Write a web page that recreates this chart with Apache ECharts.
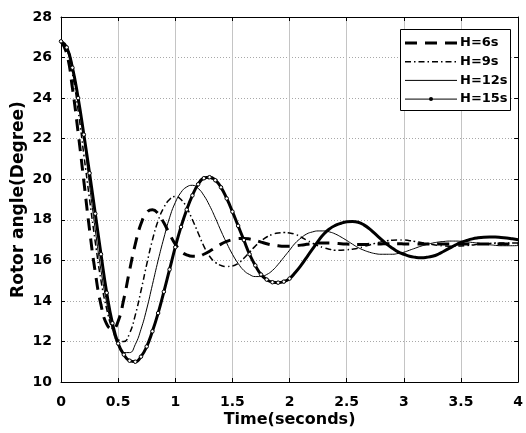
<!DOCTYPE html>
<html>
<head>
<meta charset="utf-8">
<script src="https://cdn.jsdelivr.net/npm/echarts@6/dist/echarts.min.js"></script>
<style>
  html, body { margin: 0; padding: 0; background: #fff; }
  #chart { width: 526px; height: 433px; }
</style>
</head>
<body>
<div id="chart"></div>
<script>
// Rotor angle response (degrees) sampled every 0.05 s from 0 to 4 s
const timeStep = 0.05;
const xTicks = ['0', '0.5', '1', '1.5', '2', '2.5', '3', '3.5', '4'];
const yTicks = ['10', '12', '14', '16', '18', '20', '22', '24', '26', '28'];
const seriesNames = ['H=6s', 'H=9s', 'H=12s', 'H=15s'];

const angleH6 = [
  26.8, 26.2, 24.5, 22.3, 19.9, 17.5, 15.4, 13.8, 12.85, 12.6,
  13.0, 14.1, 15.5, 16.8, 17.8, 18.35, 18.5, 18.3, 17.85, 17.3,
  16.8, 16.45, 16.27, 16.2, 16.2, 16.3, 16.45, 16.62, 16.8, 16.93,
  17.02, 17.07, 17.08, 17.05, 16.98, 16.9, 16.82, 16.76, 16.72, 16.7,
  16.7, 16.72, 16.75, 16.79, 16.83, 16.85, 16.86, 16.86, 16.84, 16.82,
  16.8, 16.79, 16.78, 16.78, 16.79, 16.8, 16.81, 16.82, 16.82, 16.82,
  16.81, 16.8, 16.8, 16.8, 16.8, 16.8, 16.8, 16.8, 16.8, 16.8,
  16.8, 16.8, 16.8, 16.8, 16.8, 16.8, 16.8, 16.8, 16.8, 16.8, 16.8
];
const angleH9 = [
  26.8, 26.45, 25.2, 23.4, 21.2, 19.0, 16.9, 15.0, 13.6, 12.6,
  12.1, 12.0, 12.4, 13.3, 14.5, 15.8, 17.0, 17.95, 18.6, 19.0,
  19.15, 19.0, 18.6, 18.0, 17.35, 16.7, 16.2, 15.9, 15.75, 15.7,
  15.72, 15.85, 16.1, 16.4, 16.7, 16.95, 17.15, 17.28, 17.35, 17.37,
  17.35, 17.28, 17.15, 17.0, 16.85, 16.72, 16.62, 16.55, 16.5, 16.5,
  16.52, 16.55, 16.6, 16.68, 16.76, 16.84, 16.91, 16.96, 16.99, 17.0,
  17.0, 16.97, 16.93, 16.88, 16.83, 16.78, 16.74, 16.71, 16.7, 16.7,
  16.71, 16.73, 16.76, 16.79, 16.81, 16.83, 16.85, 16.86, 16.86, 16.86, 16.85
];
const angleH12 = [
  26.8, 26.55, 25.6, 24.0, 22.0, 19.7, 17.5, 15.5, 13.9, 12.6,
  11.8, 11.45, 11.45, 11.85, 12.6, 13.6, 14.8, 16.0, 17.1, 18.1,
  18.85, 19.35, 19.62, 19.7, 19.55, 19.2, 18.7, 18.1, 17.45, 16.85,
  16.3, 15.85, 15.5, 15.3, 15.2, 15.2, 15.3, 15.5, 15.8, 16.15,
  16.5, 16.85, 17.1, 17.3, 17.4, 17.45, 17.45, 17.4, 17.3, 17.15,
  16.98, 16.8, 16.63, 16.5, 16.4, 16.33, 16.3, 16.3, 16.3, 16.34,
  16.4, 16.5, 16.6, 16.7, 16.78, 16.85, 16.9, 16.93, 16.95, 16.95,
  16.94, 16.92, 16.88, 16.85, 16.8, 16.77, 16.74, 16.72, 16.72, 16.72, 16.73
];
const angleH15 = [
  26.8, 26.5, 25.5, 24.0, 22.2, 20.3, 18.3, 16.3, 14.4, 12.9,
  11.9, 11.35, 11.05, 11.0, 11.25, 11.75, 12.5, 13.4, 14.45, 15.55,
  16.65, 17.65, 18.5, 19.2, 19.75, 20.05, 20.1, 19.95, 19.6, 19.05,
  18.4, 17.7, 17.0, 16.3, 15.75, 15.3, 15.05, 14.92, 14.9, 14.95,
  15.1, 15.4, 15.75, 16.15, 16.55, 16.95, 17.3, 17.55, 17.72, 17.83,
  17.9, 17.92, 17.88, 17.75, 17.55, 17.3, 17.05, 16.8, 16.6, 16.42,
  16.3, 16.2, 16.15, 16.13, 16.15, 16.2, 16.3, 16.45, 16.6, 16.75,
  16.88, 16.98, 17.06, 17.11, 17.14, 17.15, 17.15, 17.13, 17.1, 17.06, 17.02
];

function pairs(values) {
  return values.map((v, i) => [+(i * timeStep).toFixed(2), v]);
}

const FONT = '"DejaVu Sans", Verdana, sans-serif';

// line styles shared by the curves and the legend key
const styles = [
  { width: 3, dash: [12, 8] },
  { width: 1.5, dash: [6, 3, 1.5, 3] },
  { width: 1, dash: null },
  { width: 3, dash: null }
];

const chart = echarts.init(document.getElementById('chart'), null, { renderer: 'canvas' });

const xMin = +xTicks[0], xMax = +xTicks[xTicks.length - 1];
const yMin = +yTicks[0], yMax = +yTicks[yTicks.length - 1];

const frameAxis = {
  axisLine: { show: true, onZero: false, lineStyle: { color: '#000', width: 1 } },
  axisTick: { show: true, inside: true, length: 4, lineStyle: { color: '#000' } },
  axisLabel: { show: false },
  splitLine: { show: false }
};

// legend key drawn as a boxed list in the upper right corner
const keyLeft = 405, keyRight = 457, keyTop = 43, keyRow = 18.7;
const keyItems = [];
keyItems.push({
  type: 'rect', shape: { x: 400.5, y: 29.5, width: 110, height: 81 },
  style: { fill: '#fff', stroke: '#000', lineWidth: 1 }, z: 100
});
seriesNames.forEach((name, i) => {
  const y = keyTop + i * keyRow;
  keyItems.push({
    type: 'line', shape: { x1: keyLeft, y1: y, x2: keyRight, y2: y },
    style: { stroke: '#000', lineWidth: i === 3 ? 1 : styles[i].width, lineDash: styles[i].dash },
    z: 101
  });
  if (i === 3) {
    keyItems.push({
      type: 'circle', shape: { cx: (keyLeft + keyRight) / 2, cy: y, r: 2 },
      style: { fill: '#000' }, z: 102
    });
  }
  keyItems.push({
    type: 'text', x: 460, y: y,
    style: { text: name, font: 'bold 13px ' + FONT, fill: '#000', textVerticalAlign: 'middle', textAlign: 'left' },
    z: 102
  });
});

chart.setOption({
  animation: false,
  backgroundColor: '#fff',
  grid: { left: 61, top: 17, right: 3, bottom: 51, containLabel: false },
  graphic: keyItems,
  xAxis: [
    {
      type: 'value', min: xMin, max: xMax, interval: 0.5,
      name: 'Time(seconds)', nameLocation: 'middle', nameGap: 30, nameMoveOverlap: false,
      nameTextStyle: { fontFamily: FONT, fontWeight: 'bold', fontSize: 16, color: '#000' },
      axisLine: { show: true, onZero: false, lineStyle: { color: '#000', width: 1 } },
      axisTick: { show: true, inside: true, length: 4, lineStyle: { color: '#000' } },
      axisLabel: { fontFamily: FONT, fontWeight: 'bold', fontSize: 14, color: '#000', margin: 13,
        formatter: v => xTicks.find(s => +s === v) ?? '' },
      splitLine: { show: true, lineStyle: { color: '#c4c4c4', width: 1, type: 'solid' } }
    },
    Object.assign({ type: 'value', min: xMin, max: xMax, interval: 0.5, position: 'top' }, frameAxis)
  ],
  yAxis: [
    {
      type: 'value', min: yMin, max: yMax, interval: 2,
      name: 'Rotor angle(Degree)', nameLocation: 'middle', nameGap: 34, nameMoveOverlap: false,
      nameTextStyle: { fontFamily: FONT, fontWeight: 'bold', fontSize: 17, color: '#000' },
      axisLine: { show: true, onZero: false, lineStyle: { color: '#000', width: 1 } },
      axisTick: { show: true, inside: true, length: 4, lineStyle: { color: '#000' } },
      axisLabel: { fontFamily: FONT, fontWeight: 'bold', fontSize: 14, color: '#000', margin: 9,
        formatter: v => yTicks.find(s => +s === v) ?? '' },
      splitLine: { show: true, lineStyle: { color: '#a8a8a8', width: 1, type: [1, 2] } }
    },
    Object.assign({ type: 'value', min: yMin, max: yMax, interval: 2, position: 'right' }, frameAxis)
  ],
  series: [
    {
      name: seriesNames[0], type: 'line', data: pairs(angleH6), smooth: true,
      symbol: 'none', color: '#000',
      lineStyle: { color: '#000', width: styles[0].width, type: styles[0].dash }, z: 4
    },
    {
      name: seriesNames[1], type: 'line', data: pairs(angleH9), smooth: true,
      symbol: 'none', color: '#000',
      lineStyle: { color: '#000', width: styles[1].width, type: styles[1].dash }, z: 3
    },
    {
      name: seriesNames[2], type: 'line', data: pairs(angleH12), smooth: true,
      symbol: 'none', color: '#000',
      lineStyle: { color: '#000', width: styles[2].width }, z: 2
    },
    {
      name: seriesNames[3], type: 'line', data: pairs(angleH15), smooth: true,
      // markers stay visible while the swing is fast, then merge into the thick trace
      symbol: (value) => (value[0] <= 2 ? 'circle' : 'none'),
      symbolSize: 3.5, showAllSymbol: true, color: '#000',
      itemStyle: { color: '#fff', borderColor: '#000', borderWidth: 1 },
      lineStyle: { color: '#000', width: styles[3].width }, z: 5
    }
  ]
});
</script>
</body>
</html>
